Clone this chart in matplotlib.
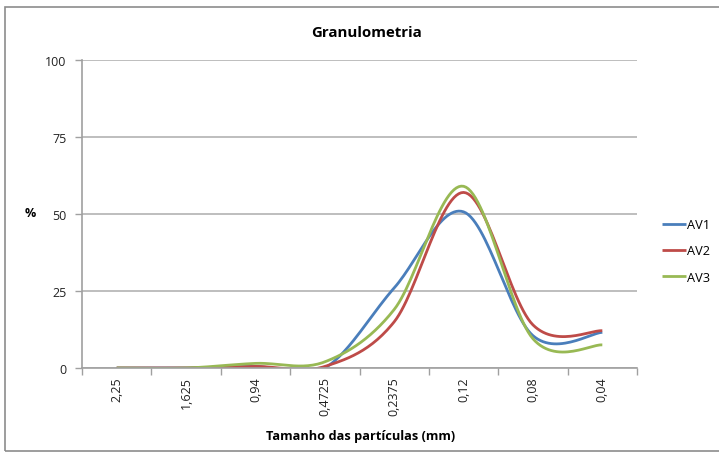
import numpy as np
import matplotlib
matplotlib.use("Agg")
import matplotlib.pyplot as plt
from matplotlib.patches import Rectangle

categories = ["2,25", "1,625", "0,94", "0,4725", "0,2375", "0,12", "0,08", "0,04"]
av1 = [0, 0, 0.5, 0, 26, 50.7, 10.5, 11.6]
av2 = [0, 0, 0.5, 0.5, 15, 57, 14, 12.1]
av3 = [0, 0, 1.5, 2, 19, 59, 9.5, 7.5]
series_names = ["AV1", "AV2", "AV3"]
colors = ["#4A7EBB", "#BE4B48", "#98B954"]

plt.rcParams['font.family'] = ['Open Sans', 'DejaVu Sans']


def smooth(x, y, n=30):
    # Catmull-Rom style smoothing (like Excel's smoothed line)
    x = np.asarray(x, float); y = np.asarray(y, float)
    px = np.concatenate([[x[0]], x, [x[-1]]])
    py = np.concatenate([[y[0]], y, [y[-1]]])
    xs, ys = [], []
    for i in range(1, len(px) - 2):
        p0 = np.array([px[i], py[i]]); p3 = np.array([px[i + 1], py[i + 1]])
        c1 = p0 + (np.array([px[i + 1], py[i + 1]]) - np.array([px[i - 1], py[i - 1]])) / 6
        c2 = p3 - (np.array([px[i + 2], py[i + 2]]) - np.array([px[i], py[i]])) / 6
        t = np.linspace(0, 1, n)[:, None]
        pts = ((1 - t) ** 3) * p0 + 3 * ((1 - t) ** 2) * t * c1 + 3 * (1 - t) * t ** 2 * c2 + t ** 3 * p3
        xs.extend(pts[:, 0]); ys.extend(pts[:, 1])
    return np.array(xs), np.array(ys)


fig = plt.figure(figsize=(7.19, 4.56), dpi=100)
fig.patches.append(Rectangle((5 / 719, 4 / 456), 1.2, 444 / 456, transform=fig.transFigure,
                             fill=False, edgecolor="#8c8c8c", linewidth=1.2))
ax = fig.add_axes([82 / 719, 1 - 369 / 456, 555 / 719, 308 / 456])

xpos = np.arange(len(categories))
for vals, name, c in zip([av1, av2, av3], series_names, colors):
    sx, sy = smooth(xpos, vals)
    ax.plot(sx, sy, color=c, lw=2.0, label=name, solid_capstyle='butt')

ax.set_xlim(-0.5, len(categories) - 0.5)
ax.set_ylim(0, 100)
ax.set_yticks([0, 25, 50, 75, 100])
ax.set_xticks(xpos)
ax.set_xticklabels(categories, rotation=90, fontsize=9, color="#222222")
ax.set_xticks(np.arange(-0.5, len(categories), 1), minor=True)
ax.tick_params(axis='x', which='major', length=0, pad=6)
ax.tick_params(axis='x', which='minor', length=5, color="#a0a0a0", width=1)
ax.tick_params(axis='y', length=5, color="#a0a0a0", width=1, labelsize=9, labelcolor="#222222", pad=6)
ax.grid(axis='y', color="#b3b3b3", lw=1.2)
ax.set_axisbelow(True)
for s in ['top', 'right']:
    ax.spines[s].set_visible(False)
for s in ['left', 'bottom']:
    ax.spines[s].set_color("#a0a0a0")
    ax.spines[s].set_linewidth(1.2)

fig.text(366 / 719, 1 - 33 / 456, "Granulometria", ha='center', va='center', fontsize=10.8, fontweight='bold')
fig.text(30 / 719, 1 - 214 / 456, "%", ha='center', va='center', fontsize=9, fontweight='bold')
fig.text(361 / 719, 1 - 437 / 456, "Tamanho das partículas (mm)", ha='center', va='center', fontsize=9.2, fontweight='bold')

ax.legend(loc='center left', bbox_to_anchor=(650 / 719, 1 - 252 / 456), bbox_transform=fig.transFigure,
          frameon=False, fontsize=9.2, handlelength=1.9, handletextpad=0.1, labelspacing=1.05)

fig.savefig("out.png", dpi=100)
